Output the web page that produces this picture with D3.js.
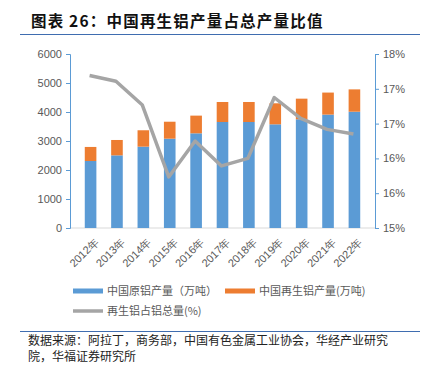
<!DOCTYPE html>
<html>
<head>
<meta charset="utf-8">
<script src="https://cdn.jsdelivr.net/npm/d3@7"></script>
<style>
  body { margin: 0; background: #fff; }
  svg { display: block; font-family: "Liberation Sans", Arial, "Noto Sans CJK SC", sans-serif; }
</style>
</head>
<body>
<div id="chart"></div>
<script>
const years = ["2012年", "2013年", "2014年", "2015年", "2016年", "2017年", "2018年", "2019年", "2020年", "2021年", "2022年"];
const primary = [2310, 2505, 2805, 3080, 3265, 3655, 3655, 3575, 3750, 3910, 4010];
const recycled = [485, 530, 565, 585, 610, 690, 690, 725, 710, 760, 770];
const share = [17.63, 17.53, 17.12, 15.88, 16.50, 16.07, 16.20, 17.25, 16.89, 16.70, 16.62];
const leftTicks = [0, 1000, 2000, 3000, 4000, 5000, 6000];
const rightTicks = [15, 15.6, 16.2, 16.8, 17.4, 18];

const W = 423, H = 366;
const margin = {top: 54, right: 48, bottom: 138, left: 70};
const width = W - margin.left - margin.right,
  height = H - margin.top - margin.bottom;

const svg = d3.select("#chart").append("svg")
  .attr("width", W).attr("height", H);

// title
svg.append("text")
  .attr("x", 31).attr("y", 27)
  .style("font-family", "'Noto Sans CJK SC', sans-serif")
  .style("font-size", "15.5px").style("font-weight", "bold")
  .style("letter-spacing", "1.2px")
  .attr("fill", "#111")
  .text("图表 26：中国再生铝产量占总产量比值");
svg.append("line")
  .attr("x1", 20).attr("x2", 420).attr("y1", 34.5).attr("y2", 34.5)
  .attr("stroke", "#3f6db0").attr("stroke-width", 1.2);

const g = svg.append("g")
  .attr("transform", "translate(" + margin.left + "," + margin.top + ")");

let x = d3.scaleBand()
  .domain(years)
  .range([0, width])
  .padding(0.56);

let y = d3.scaleLinear().domain([0, 6000]).range([height, 0]);
let y2 = d3.scaleLinear().domain([15, 18]).range([height, 0]);

// bottom axis line
g.append("line")
  .attr("x1", 0).attr("x2", width).attr("y1", height).attr("y2", height)
  .attr("stroke", "#d9d9d9").attr("stroke-width", 1);

// bars
const stackData = years.map((d, i) => ({year: d, primary: primary[i], recycled: recycled[i]}));
g.selectAll(".bar-p")
  .data(stackData)
  .enter().append("rect")
  .attr("x", d => x(d.year))
  .attr("y", d => y(d.primary))
  .attr("width", x.bandwidth())
  .attr("height", d => height - y(d.primary))
  .attr("fill", "#5b9bd5");
g.selectAll(".bar-r")
  .data(stackData)
  .enter().append("rect")
  .attr("x", d => x(d.year))
  .attr("y", d => y(d.primary + d.recycled))
  .attr("width", x.bandwidth())
  .attr("height", d => y(d.primary) - y(d.primary + d.recycled))
  .attr("fill", "#ed7d31");

// line
const line = d3.line()
  .x((d, i) => x(years[i]) + x.bandwidth() / 2 - 1)
  .y(d => y2(d));
g.append("path")
  .datum(share)
  .attr("d", line)
  .attr("fill", "none")
  .attr("stroke", "#a5a5a5")
  .attr("stroke-width", 3.5)
  .attr("stroke-linejoin", "round");

// left axis
const ax = g.append("g")
  .call(d3.axisLeft(y).tickValues(leftTicks).tickSize(4).tickPadding(4).tickFormat(d3.format("d")));
ax.select(".domain").attr("stroke", "#5b9bd5").attr("d", "M-4,0.5H0.5V" + (height + 0.5) + "H-4");
ax.selectAll(".tick line").attr("stroke", "#5b9bd5");
ax.selectAll("text").attr("fill", "#595959").style("font-size", "11px");

// right axis
const ax2 = g.append("g")
  .attr("transform", "translate(" + width + ",0)")
  .call(d3.axisRight(y2).tickValues(rightTicks).tickSize(4).tickPadding(4)
    .tickFormat(d => d3.format(".0f")(d) + "%"));
ax2.select(".domain").attr("stroke", "#5b9bd5").attr("d", "M4,0.5H0.5V" + (height + 0.5) + "H4");
ax2.selectAll(".tick line").attr("stroke", "#5b9bd5");
ax2.selectAll("text").attr("fill", "#595959").style("font-size", "11px");

// x labels
const ax3 = g.append("g")
  .attr("transform", "translate(0," + height + ")")
  .call(d3.axisBottom(x).tickSize(0).tickPadding(0));
ax3.select(".domain").remove();
ax3.selectAll("text")
  .attr("fill", "#595959")
  .style("font-size", "11px")
  .attr("text-anchor", "end")
  .attr("dy", "0.35em")
  .attr("transform", "translate(6,12) rotate(-45)");

// legend
const legendFont = "'Noto Sans CJK SC', sans-serif";
const legend = [
  {label: "中国原铝产量（万吨）", color: "#5b9bd5", x: 73, y: 291},
  {label: "中国再生铝产量(万吨)", color: "#ed7d31", x: 225, y: 291},
  {label: "再生铝占铝总量(%)", color: "#a5a5a5", x: 73, y: 311}
];
const lg = svg.selectAll(".lg").data(legend).enter().append("g");
lg.append("rect")
  .attr("x", d => d.x).attr("y", (d, i) => d.y - (i < 2 ? 2.5 : 1.75))
  .attr("width", 30).attr("height", (d, i) => i < 2 ? 5 : 3.5)
  .attr("fill", d => d.color);
lg.append("text")
  .attr("x", d => d.x + 34).attr("y", d => d.y + 4)
  .style("font-family", legendFont).style("font-size", "11px")
  .attr("fill", "#595959")
  .text(d => d.label);

// source
svg.append("line")
  .attr("x1", 20).attr("x2", 420).attr("y1", 331.5).attr("y2", 331.5)
  .attr("stroke", "#3f6db0").attr("stroke-width", 1.2);
const src = svg.append("text")
  .style("font-family", legendFont).style("font-size", "12px")
  .attr("fill", "#222");
src.append("tspan").attr("x", 28).attr("y", 345)
  .text("数据来源：阿拉丁，商务部，中国有色金属工业协会，华经产业研究");
src.append("tspan").attr("x", 28).attr("y", 361)
  .text("院，华福证券研究所");
</script>
</body>
</html>
